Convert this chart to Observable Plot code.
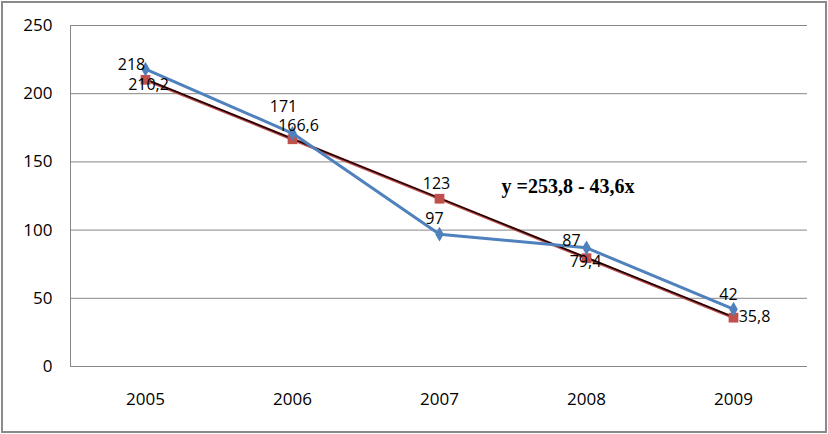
<!DOCTYPE html>
<html>
<head>
<meta charset="utf-8">
<script src="https://cdn.jsdelivr.net/npm/d3@7"></script>
<script src="https://cdn.jsdelivr.net/npm/@observablehq/plot@0.6"></script>
<style>
  body { margin: 0; background: #fff; }
  #chart svg { display: block; outline: 2px solid #8a8a8a; outline-offset: -3px; }
</style>
</head>
<body>
<div id="chart"></div>
<script>
// ---- data ----
const years = ["2005", "2006", "2007", "2008", "2009"];
const actual = [218, 171, 97, 87, 42];
const trend = [210.2, 166.6, 123, 79.4, 35.8];
const yTicks = [0, 50, 100, 150, 200, 250];
const equation = "y =253,8 - 43,6x";

// ---- layout (label offsets, not data) ----
const actualOffsets = [[-14, -4], [-9, -26], [-5, -15], [-15, -7], [-5, -14]];
const trendOffsets = [[3, 5], [6, -13], [-3, -15], [-1, 4], [21, -1]];

const fmt = v => String(v).replace(".", ",");
const actualRows = years.map((y, i) => ({year: y, value: actual[i], label: fmt(actual[i]), dx: actualOffsets[i][0], dy: actualOffsets[i][1]}));
const trendRows = years.map((y, i) => ({year: y, value: trend[i], label: fmt(trend[i]), dx: trendOffsets[i][0], dy: trendOffsets[i][1]}));

const blue = "#4f81bd";
const red = "#c0504d";
const font = "'Open Sans', 'Noto Sans', sans-serif";

const labelMarks = rows => rows.map(r => Plot.text([r], {
  x: "year", y: "value", text: "label", dx: r.dx, dy: r.dy,
  fontSize: 16, fill: "#000", textAnchor: "middle", fontFamily: font
}));

const chart = Plot.plot({
  width: 828,
  height: 434,
  marginLeft: 70,
  marginRight: 21,
  marginTop: 25,
  marginBottom: 68,
  style: {fontFamily: font, background: "#fff"},
  x: {type: "point", domain: years, padding: 0.5, label: null},
  y: {domain: [0, 250], label: null},
  marks: [
    Plot.ruleY(yTicks, {stroke: "#868686", strokeWidth: 1}),
    Plot.axisY({ticks: yTicks, tickSize: 0, tickPadding: 18, fontSize: 17, fill: "#000", label: null}),
    Plot.axisX({tickSize: 0, tickPadding: 26, fontSize: 17, fill: "#000", label: null}),
    Plot.frame({anchor: "left", stroke: "#868686"}),
    Plot.line(trendRows, {x: "year", y: "value", stroke: red, strokeWidth: 3}),
    Plot.line(trendRows, {x: "year", y: "value", stroke: "#1a0000", strokeWidth: 1.6, dy: -0.6}),
    Plot.dot(trendRows, {x: "year", y: "value", symbol: "square", r: 5.5, fill: red, stroke: "none"}),
    Plot.line(actualRows, {x: "year", y: "value", stroke: blue, strokeWidth: 3}),
    Plot.dot(actualRows, {x: "year", y: "value", symbol: "diamond", r: 4.5, fill: blue, stroke: "none"}),
    ...labelMarks(actualRows),
    ...labelMarks(trendRows),
    Plot.text([equation], {
      text: d => d, x: () => "2007", y: () => 132,
      dx: 62, textAnchor: "start", fontSize: 20, fontWeight: "bold",
      fontFamily: "'Liberation Serif', 'Times New Roman', serif", fill: "#000"
    })
  ]
});
document.getElementById("chart").appendChild(chart);
</script>
</body>
</html>
